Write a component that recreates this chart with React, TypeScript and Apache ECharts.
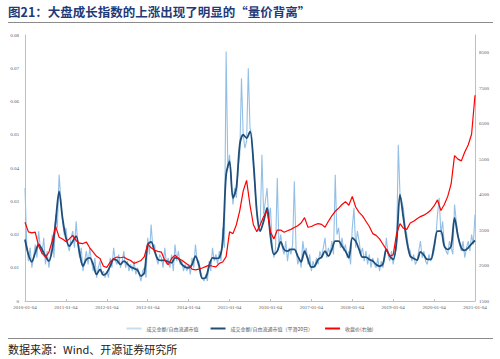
import React, { useEffect, useRef } from "react";
import * as echarts from "echarts";

// x axis: years 2010..2021, labels "YYYY-01-04"
const xStartYear = 2010;
const xEndYear = 2021;

// Turnover / free-float market cap (raw), semi-monthly samples from 2010-01
const rawTurnover: number[] = [
  // 2010
  0.034, 0.017, 0.012, 0.016, 0.010, 0.013, 0.017, 0.013, 0.021, 0.016, 0.014, 0.019,
  0.011, 0.015, 0.010, 0.014, 0.020, 0.013, 0.026, 0.022, 0.038, 0.031, 0.024, 0.020,
  // 2011
  0.022, 0.017, 0.015, 0.019, 0.021, 0.016, 0.024, 0.017, 0.013, 0.016, 0.009, 0.012,
  0.015, 0.011, 0.016, 0.012, 0.009, 0.013, 0.007, 0.010, 0.012, 0.008, 0.009, 0.007,
  // 2012
  0.009, 0.007, 0.013, 0.010, 0.016, 0.012, 0.011, 0.014, 0.010, 0.012, 0.015, 0.010,
  0.012, 0.009, 0.011, 0.009, 0.012, 0.008, 0.010, 0.008, 0.006, 0.009, 0.010, 0.007,
  // 2013
  0.019, 0.014, 0.023, 0.016, 0.017, 0.013, 0.011, 0.014, 0.013, 0.010, 0.016, 0.011,
  0.013, 0.010, 0.014, 0.009, 0.017, 0.012, 0.015, 0.011, 0.012, 0.009, 0.011, 0.009,
  // 2014
  0.011, 0.008, 0.013, 0.010, 0.017, 0.012, 0.012, 0.009, 0.007, 0.006, 0.008, 0.006,
  0.012, 0.009, 0.016, 0.012, 0.014, 0.011, 0.015, 0.012, 0.022, 0.016, 0.075, 0.040,
  // 2015
  0.044, 0.036, 0.029, 0.034, 0.031, 0.040, 0.044, 0.067, 0.050, 0.046, 0.048, 0.070,
  0.052, 0.050, 0.040, 0.034, 0.026, 0.021, 0.023, 0.044, 0.026, 0.030, 0.034, 0.025,
  // 2016
  0.028, 0.017, 0.013, 0.016, 0.037, 0.016, 0.020, 0.016, 0.014, 0.018, 0.012, 0.016,
  0.014, 0.017, 0.036, 0.016, 0.011, 0.013, 0.010, 0.018, 0.014, 0.016, 0.011, 0.014,
  // 2017
  0.009, 0.012, 0.010, 0.013, 0.011, 0.015, 0.013, 0.016, 0.019, 0.013, 0.016, 0.014,
  0.018, 0.014, 0.038, 0.020, 0.022, 0.016, 0.019, 0.015, 0.017, 0.013, 0.015, 0.011,
  // 2018
  0.022, 0.028, 0.016, 0.021, 0.018, 0.014, 0.016, 0.012, 0.015, 0.011, 0.014, 0.010,
  0.013, 0.011, 0.010, 0.013, 0.009, 0.012, 0.010, 0.013, 0.019, 0.014, 0.012, 0.015,
  // 2019
  0.011, 0.014, 0.016, 0.047, 0.032, 0.030, 0.028, 0.022, 0.020, 0.016, 0.015, 0.012,
  0.014, 0.011, 0.012, 0.015, 0.018, 0.013, 0.015, 0.012, 0.011, 0.014, 0.012, 0.013,
  // 2020
  0.015, 0.019, 0.026, 0.031, 0.020, 0.024, 0.017, 0.015, 0.014, 0.018, 0.016, 0.014,
  0.029, 0.024, 0.020, 0.017, 0.015, 0.018, 0.013, 0.016, 0.018, 0.015, 0.020, 0.017,
  // 2021
  0.026,
];

// Smoothed (20-day) turnover ratio, monthly samples from 2010-01
const smoothTurnover: number[] = [
  0.0185, 0.014, 0.0118, 0.0145, 0.017, 0.0155, 0.0135, 0.012, 0.0155, 0.024, 0.033, 0.025,
  0.019, 0.0165, 0.018, 0.0195, 0.0145, 0.0105, 0.0125, 0.013, 0.011, 0.008, 0.0095, 0.0078,
  0.0085, 0.0105, 0.0125, 0.0122, 0.011, 0.012, 0.0112, 0.0102, 0.0098, 0.0093, 0.0075, 0.0085,
  0.017, 0.0178, 0.015, 0.0125, 0.0122, 0.0122, 0.0118, 0.0115, 0.013, 0.0128, 0.011, 0.0102,
  0.01, 0.011, 0.0135, 0.0108, 0.0068, 0.007, 0.0105, 0.013, 0.0128, 0.013, 0.018, 0.038,
  0.042, 0.031, 0.034, 0.047, 0.05, 0.049, 0.051, 0.042, 0.027, 0.021, 0.024, 0.028,
  0.0195, 0.014, 0.015, 0.0178, 0.0155, 0.015, 0.0155, 0.0155, 0.0135, 0.0118, 0.015, 0.0125,
  0.0102, 0.0105, 0.0125, 0.0132, 0.015, 0.0135, 0.0155, 0.018, 0.018, 0.0165, 0.015, 0.013,
  0.019, 0.018, 0.0155, 0.0132, 0.0132, 0.0125, 0.012, 0.011, 0.0105, 0.0112, 0.0155, 0.0135,
  0.0125, 0.018, 0.032, 0.025, 0.018, 0.0135, 0.0128, 0.0123, 0.0148, 0.0138, 0.0125, 0.0125,
  0.0165, 0.021, 0.021, 0.0165, 0.0155, 0.0165, 0.025, 0.0195, 0.016, 0.0152, 0.016, 0.0172,
  0.0182,
];

// Close price (right axis), monthly samples from 2010-01
const closePrice: number[] = [
  3720, 3450, 3420, 3440, 3050, 2850, 2740, 2870, 3200, 3600, 3300, 3250,
  3180, 3250, 3350, 3200, 3130, 3120, 3160, 3000, 2880, 2760, 2700, 2480,
  2450, 2600, 2700, 2740, 2720, 2740, 2680, 2640, 2560, 2600, 2640, 2750,
  3100, 3000, 2930, 2900, 2880, 2650, 2520, 2700, 2790, 2700, 2650, 2580,
  2510, 2400, 2380, 2400, 2430, 2470, 2510, 2480, 2460, 2560, 2600, 2750,
  3450, 3400, 3650, 4050, 4600, 4900, 4200, 3650, 3450, 3650, 3880, 4050,
  3450, 3250, 3500, 3500, 3440, 3480, 3520, 3570, 3620, 3700, 3850, 3580,
  3600, 3650, 3680, 3660, 3580, 3750, 3900, 4030, 4120, 4220, 4300, 4200,
  4450, 4150, 4000, 3900, 3750, 3600, 3400, 3350, 3250, 3100, 2950, 2760,
  2800, 3400, 3680, 3550, 3520, 3700, 3750, 3820, 3880, 3920, 3980, 4060,
  4180, 4350, 4050, 4220, 4450, 4800, 5600, 5500, 5450, 5700, 5900, 6200,
  7300,
];

const seriesNames = [
  "成交金额/自由流通市值",
  "成交金额/自由流通市值（平滑20日）",
  "收盘价(右轴)",
];

const titleText = "图21：大盘成长指数的上涨出现了明显的“量价背离”";
const sourceText = "数据来源：Wind、开源证券研究所";

export default function App() {
  const ref = useRef<HTMLDivElement>(null);

  useEffect(() => {
    document.body.style.margin = "0";
    if (!ref.current) return;
    const chart = echarts.init(ref.current, undefined, { renderer: "svg" });

    const rawData = rawTurnover.map((v, j) => [xStartYear + j / 24, v]);
    const smoothData = smoothTurnover.map((v, i) => [xStartYear + i / 12, v]);
    const closeData = closePrice.map((v, i) => [xStartYear + i / 12, v]);

    const axisColor = "#bfbfbf";
    const labelColor = "#595959";

    chart.setOption({
      animation: false,
      backgroundColor: "#ffffff",
      grid: { left: 25, right: 25, top: 35, bottom: 58, containLabel: false },
      legend: {
        top: 321,
        left: "center",
        itemGap: 12,
        itemWidth: 15,
        itemHeight: 2,
        textStyle: { fontSize: 5, color: labelColor, fontFamily: "Noto Sans CJK SC" },
        data: [
          { name: seriesNames[0], icon: "rect", itemStyle: { color: "#c7dcef" } },
          { name: seriesNames[1], icon: "rect", itemStyle: { color: "#1f4e79" } },
          { name: seriesNames[2], icon: "rect", itemStyle: { color: "#ff0000" } },
        ],
      },
      xAxis: {
        type: "value",
        min: xStartYear,
        max: xEndYear,
        interval: 1,
        splitLine: { show: false },
        axisLine: { lineStyle: { color: axisColor, width: 1 } },
        axisTick: { show: true, length: 2, inside: true, lineStyle: { color: axisColor } },
        axisLabel: {
          fontSize: 5,
          color: labelColor,
          margin: 4,
          fontFamily: "Liberation Serif",
          formatter: (v: number) => `${Math.round(v)}-01-04`,
        },
      },
      yAxis: [
        {
          type: "value",
          min: 0,
          max: 0.08,
          interval: 0.01,
          splitLine: { show: false },
          axisLine: { show: true, lineStyle: { color: axisColor, width: 1 } },
          axisTick: { show: false },
          axisLabel: {
            fontSize: 5,
            color: labelColor,
            margin: 6,
            fontFamily: "Liberation Serif",
            formatter: (v: number) => (v === 0 ? "0" : v.toFixed(2)),
          },
        },
        {
          type: "value",
          min: 1500,
          max: 9000,
          interval: 1000,
          position: "right",
          splitLine: { show: false },
          axisLine: { show: true, lineStyle: { color: axisColor, width: 1 } },
          axisTick: { show: false },
          axisLabel: {
            fontSize: 5,
            color: labelColor,
            margin: 4,
            showMaxLabel: false,
            fontFamily: "Liberation Serif",
            formatter: (v: number) => (v >= 9000 ? "" : String(v)),
          },
        },
      ],
      series: [
        {
          name: seriesNames[0],
          type: "line",
          yAxisIndex: 0,
          data: rawData,
          showSymbol: false,
          lineStyle: { color: "#93bfe6", width: 1.1 },
          itemStyle: { color: "#c7dcef" },
          z: 1,
        },
        {
          name: seriesNames[1],
          type: "line",
          yAxisIndex: 0,
          data: smoothData,
          showSymbol: false,
          smooth: 0.3,
          lineStyle: { color: "#1f4e79", width: 1.8 },
          itemStyle: { color: "#1f4e79" },
          z: 2,
        },
        {
          name: seriesNames[2],
          type: "line",
          yAxisIndex: 1,
          data: closeData,
          showSymbol: false,
          lineStyle: { color: "#ff0000", width: 1.2 },
          itemStyle: { color: "#ff0000" },
          z: 3,
        },
      ],
      graphic: [
        {
          type: "text",
          left: 8,
          top: 5,
          style: {
            text: titleText,
            fontSize: 12.5,
            fontWeight: "bold",
            fill: "#1f3a78",
            fontFamily: "Noto Sans CJK SC",
          },
        },
        {
          type: "line",
          shape: { x1: 8, y1: 22.5, x2: 493, y2: 22.5 },
          style: { stroke: "#8c8c8c", lineWidth: 1 },
        },
        {
          type: "line",
          shape: { x1: 8, y1: 338.5, x2: 493, y2: 338.5 },
          style: { stroke: "#8c8c8c", lineWidth: 1 },
        },
        {
          type: "text",
          left: 8,
          top: 343,
          style: {
            text: sourceText,
            fontSize: 11,
            fill: "#222222",
            fontFamily: "Noto Sans CJK SC",
          },
        },
      ],
    });

    return () => chart.dispose();
  }, []);

  return <div ref={ref} style={{ width: 500, height: 359 }} />;
}
